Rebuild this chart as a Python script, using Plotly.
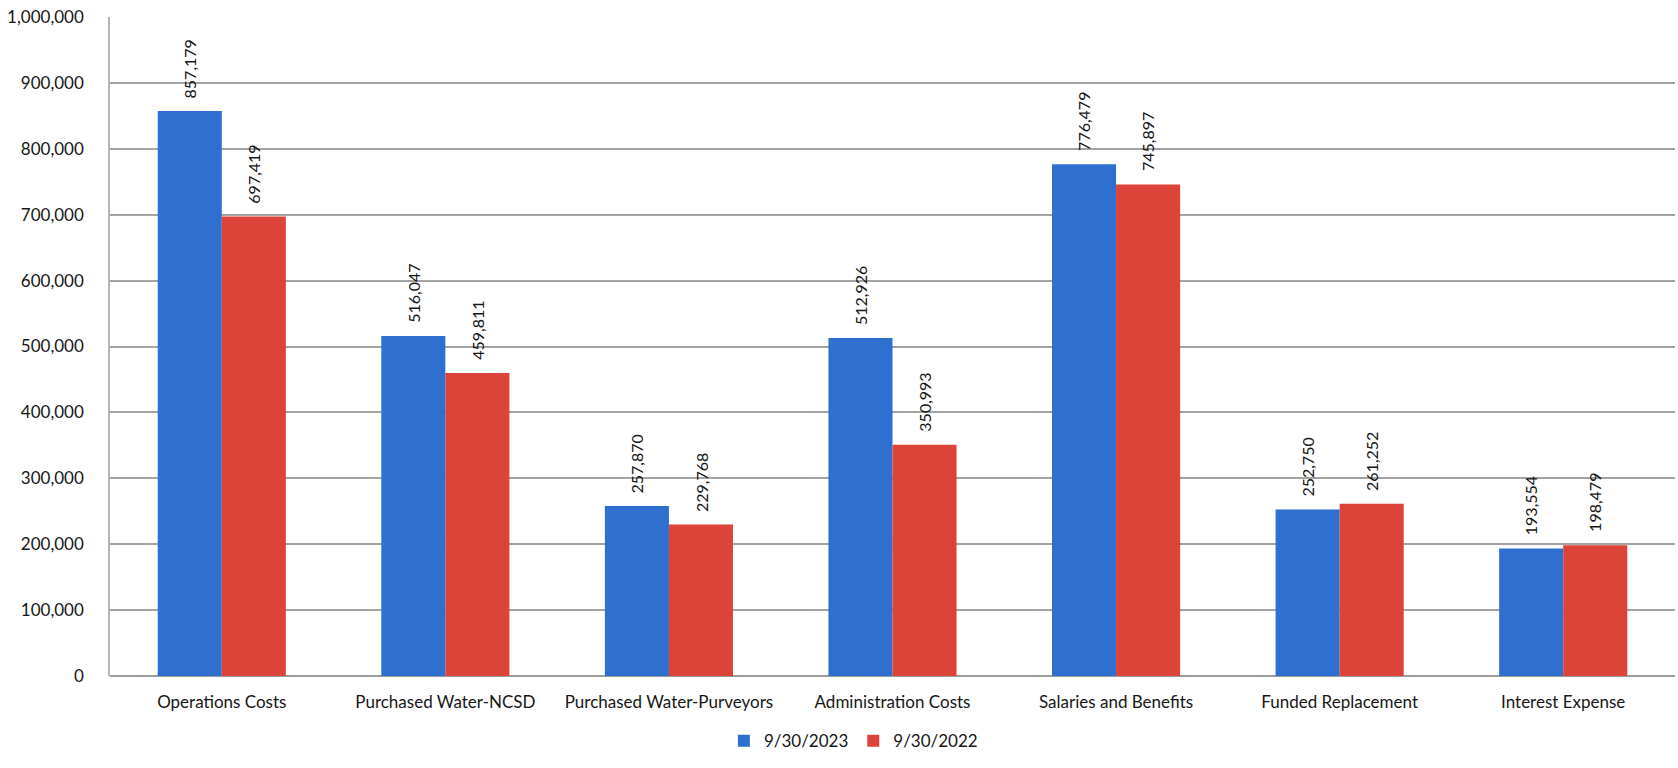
import plotly.graph_objects as go

categories = [
    "Operations Costs",
    "Purchased Water-NCSD",
    "Purchased Water-Purveyors",
    "Administration Costs",
    "Salaries and Benefits",
    "Funded Replacement",
    "Interest Expense",
]
values_2023 = [857179, 516047, 257870, 512926, 776479, 252750, 193554]
values_2022 = [697419, 459811, 229768, 350993, 745897, 261252, 198479]
series_names = ["9/30/2023", "9/30/2022"]
tick_values = [0, 100000, 200000, 300000, 400000, 500000, 600000, 700000, 800000, 900000, 1000000]

BLUE = "#2f6fcf"
RED = "#dc4339"
TEXT = "#161616"

fig = go.Figure()
fig.add_trace(go.Bar(x=categories, y=values_2023, name=series_names[0],
                     marker=dict(color=BLUE, line=dict(width=0))))
fig.add_trace(go.Bar(x=categories, y=values_2022, name=series_names[1],
                     marker=dict(color=RED, line=dict(width=0))))

# rotated value labels above each bar
n = len(categories)
offset = 0.143
annotations = []
for i in range(n):
    for vals, dx in ((values_2023, -offset), (values_2022, offset)):
        annotations.append(dict(
            x=i + dx, y=vals[i], xref="x", yref="y",
            text=f"{vals[i]:,}", showarrow=False, textangle=-90,
            xanchor="center", yanchor="bottom", yshift=11,
            font=dict(family="Lato", size=16, color=TEXT),
        ))

fig.update_layout(
    width=1678, height=768,
    margin=dict(l=110, r=3, t=17, b=92),
    paper_bgcolor="white", plot_bgcolor="white",
    barmode="group", bargap=0.427, bargroupgap=0,
    showlegend=True,
    legend=dict(orientation="h", x=0.475, y=-0.099, xanchor="center", yanchor="middle",
                font=dict(family="Lato", size=17, color=TEXT),
                itemwidth=30, traceorder="normal"),
    annotations=annotations,
    font=dict(family="Lato", color=TEXT),
)
fig.update_xaxes(
    type="category", showgrid=False, showline=False, ticks="",
    ticklabelstandoff=14,
    tickfont=dict(family="Lato", size=17, color=TEXT),
    range=[-0.5, n - 0.5],
)
fig.update_yaxes(
    range=[0, 1000000], tickvals=tick_values, tickformat=",d",
    showgrid=True, gridcolor="#a3a3a3", gridwidth=1.8,
    zeroline=True, zerolinecolor="#9c9c9c", zerolinewidth=2,
    showline=True, linecolor="#b5b5b5", linewidth=1.5,
    ticks="", ticklabelstandoff=21,
    tickfont=dict(family="Lato", size=17, color=TEXT),
)

fig.write_html("out.html")
